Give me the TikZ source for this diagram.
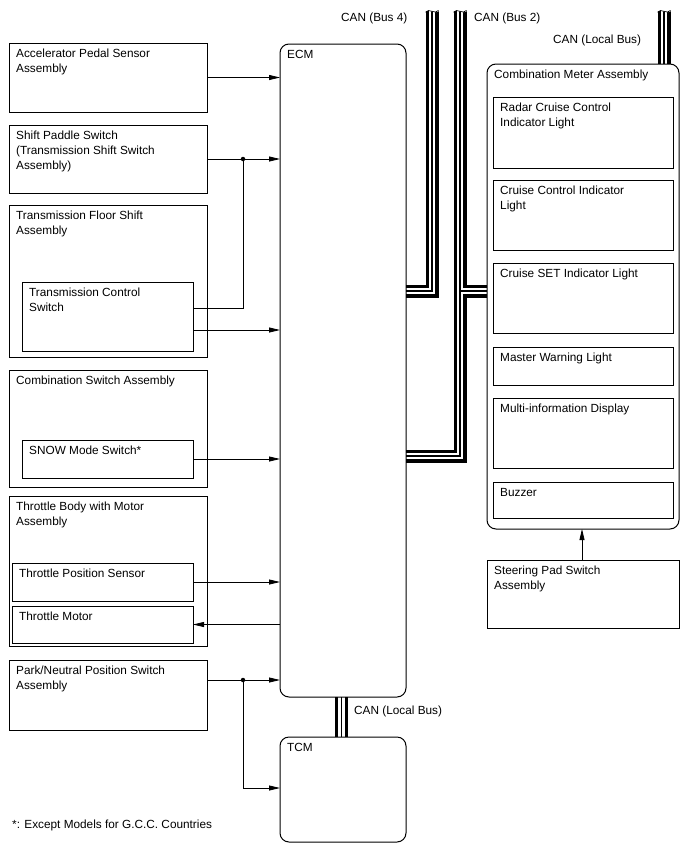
\documentclass[tikz,border=0pt]{standalone}
\usepackage{fontspec}
\setmainfont{Liberation Sans}
\usetikzlibrary{arrows.meta,calc}
\pgfdeclarelayer{background}
\pgfsetlayers{background,main}
\newcommand\mybox[7][box]{\node[#1, minimum width=#5pt, minimum height=#6pt] (#2) at (#3,#4) {};
  \node[lab] (#2t) at ($(#2.north west)+(7,6)$) {#7};}
\begin{document}
\begin{tikzpicture}[x=1pt,y=-1pt,
 box/.style={draw, line width=1pt, anchor=north west, inner sep=0pt, outer sep=0pt},
 rbox/.style={box, rounded corners=9pt},
 lab/.style={anchor=north west, inner sep=0pt, align=left, font=\fontsize{11.8}{15}\selectfont},
 conn/.style={draw, line width=0.8pt},
 arr/.style={conn, -{Triangle[length=11pt,width=5pt]}},
 jdot/.style={circle, fill, inner sep=0pt, minimum size=4.5pt},
 busline/.style={line join=miter},
]
\useasboundingbox (0,0) rectangle (688,852);
% left column
\mybox{acc}{9}{43}{198}{69}{Accelerator Pedal Sensor\\Assembly}
\mybox{sps}{9}{125}{198}{68}{Shift Paddle Switch\\(Transmission Shift Switch\\Assembly)}
\mybox{tfs}{9}{205}{198}{152}{Transmission Floor Shift\\Assembly}
\mybox{tcs}{22}{282}{171}{69}{Transmission Control\\Switch}
\mybox{css}{9}{370}{198}{117}{Combination Switch Assembly}
\mybox{snow}{22}{440}{171}{38}{SNOW Mode Switch*}
\mybox{tbm}{9}{496}{198}{150}{Throttle Body with Motor\\Assembly}
\mybox{tps}{12}{563}{181}{38}{Throttle Position Sensor}
\mybox{tm}{12}{606}{181}{37}{Throttle Motor}
\mybox{pns}{9}{660}{198}{70}{Park/Neutral Position Switch\\Assembly}
% ECM / TCM
\mybox[rbox]{ecm}{280}{44}{126}{653}{ECM}
\mybox[rbox]{tcm}{280}{737}{126}{105}{TCM}
% meter
\mybox[rbox]{cma}{487}{64}{192}{465}{Combination Meter Assembly}
\mybox{rcc}{493}{97}{180}{71}{Radar Cruise Control\\Indicator Light}
\mybox{cci}{493}{180}{180}{70}{Cruise Control Indicator\\Light}
\mybox{csi}{493}{263}{180}{70}{Cruise SET Indicator Light}
\mybox{mwl}{493}{347}{180}{38}{Master Warning Light}
\mybox{mid}{493}{398}{180}{70}{Multi-information Display}
\mybox{buz}{493}{482}{180}{36}{Buzzer}
\mybox{spa}{487}{560}{192}{68}{Steering Pad Switch\\Assembly}
% connectors
\coordinate (y308) at (0,308);
\coordinate (y330) at (0,330);
\coordinate (y788) at (0,788);
\coordinate (x582) at (582,0);
\coordinate (j1) at (243,159);
\coordinate (j2) at (243,680);
\draw[arr] (acc.east) -- (acc.east -| ecm.west);
\draw[arr] (sps.east) -- (sps.east -| ecm.west);
\draw[conn] (tcs.east |- y308) -| (j1);
\node[jdot] (d1) at (j1) {};
\draw[arr] (tcs.east |- y330) -- (ecm.west |- y330);
\draw[arr] (snow.east) -- (snow.east -| ecm.west);
\draw[arr] (tps.east) -- (tps.east -| ecm.west);
\draw[arr] (tm.east -| ecm.west) -- (tm.east);
\draw[arr] (pns.east |- j2) -- (ecm.west |- j2);
\draw[arr] (j2) |- (tcm.west |- y788);
\node[jdot] (d2) at (j2) {};
\draw[arr] (spa.north -| x582) -- (cma.south -| x582);
% buses
\coordinate (b4h) at (432,291);
\coordinate (b4t) at (432,6);
\coordinate (b2h) at (460,456);
\coordinate (b2t) at (460,6);
\coordinate (b2b) at (460,291);
\coordinate (lbt) at (664,6);
\coordinate (tb) at (341.5,0);
\newcommand\buspaths[1]{%
 \draw[busline,#1] (ecm.east |- b4h) -- (b4h) -- (b4t);
 \draw[busline,#1] (ecm.east |- b2h) -- (b2h) -- (b2t);
 \draw[busline,#1] (b2b) -- (cma.west |- b2b);
 \draw[busline,#1] (cma.north -| lbt) -- (lbt);
 \draw[busline,#1] (ecm.south -| tb) -- (tcm.north -| tb);}
\begin{pgfonlayer}{background}
\buspaths{line width=13pt}
\buspaths{white, line width=6.5pt}
\buspaths{line width=1.5pt}
\foreach \bx in {432,460,664}{
 \begin{scope}[shift={(\bx,0)}]
  \fill[white] (-8,-1) -- (-8,13) .. controls (-3,7) and (3,16) .. (8,10) -- (8,-1) -- cycle;
  \draw[line width=0.7pt] (-6.5,12.2) .. controls (-3,7.3) and (3,15.3) .. (6.5,10.4);
 \end{scope}}
\end{pgfonlayer}
% bus labels
\node[lab] (l4) at (341,13) {CAN (Bus 4)};
\node[lab] (l2) at (474,13) {CAN (Bus 2)};
\node[lab] (l3) at (553,35) {CAN (Local Bus)};
\node[lab] (l5) at (354,706) {CAN (Local Bus)};
\node[lab] (fn) at (12,820) {*: Except Models for G.C.C. Countries};
\end{tikzpicture}
\end{document}
